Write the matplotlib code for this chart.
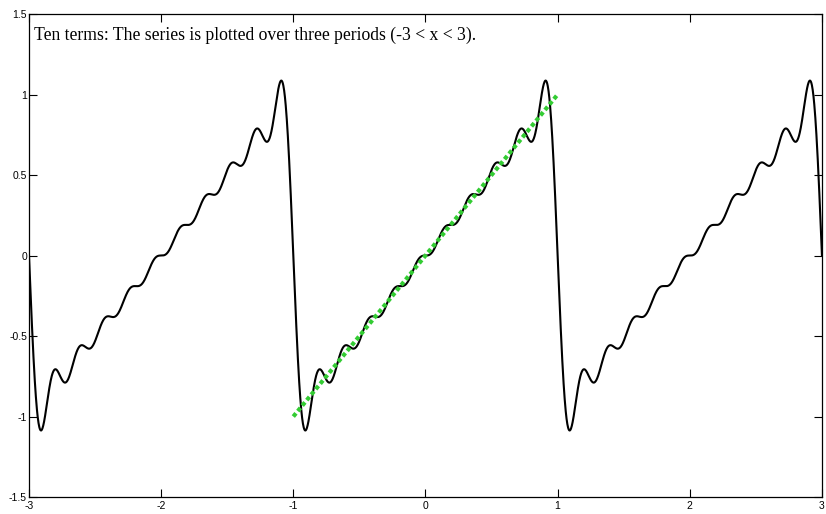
import matplotlib.pyplot as plt
import numpy as np

# sine coefficients of the first ten terms (sawtooth, period 2)
harmonics = [1, 2, 3, 4, 5, 6, 7, 8, 9, 10]
coeffs = [0.6366, -0.3183, 0.2122, -0.1592, 0.1273, -0.1061, 0.0909, -0.0796, 0.0707, -0.0637]
x_range = [-3, 3]
# the target function over one period
line_x = [-1, 1]
line_y = [-1, 1]

title = "Ten terms: The series is plotted over three periods (-3 < x < 3)."

x = np.linspace(x_range[0], x_range[1], 3000)
y = np.zeros_like(x)
for n, b in zip(harmonics, coeffs):
    y += b * np.sin(n * np.pi * x)

fig = plt.figure(figsize=(8.26, 5.14), dpi=100)
ax = fig.add_axes([0.0351, 0.033, 0.960, 0.9397])
ax.plot(x, y, color='black', linewidth=1.5)
ax.plot(line_x, line_y, color='#33cc33', linewidth=3, linestyle=(0, (1.0, 0.7)))

ax.set_xlim(-3, 3)
ax.set_ylim(-1.5, 1.5)
ax.set_xticks([-3, -2, -1, 0, 1, 2, 3])
ax.set_yticks([-1.5, -1, -0.5, 0, 0.5, 1, 1.5])
ax.set_xticklabels(['-3', '-2', '-1', '0', '1', '2', '3'])
ax.set_yticklabels(['-1.5', '-1', '-0.5', '0', '0.5', '1', '1.5'])
ax.tick_params(direction='in', top=True, right=True, length=6, width=0.8,
               labelsize=7.5)
ax.tick_params(axis='x', pad=3)
ax.tick_params(axis='y', pad=1.5)
for lab in ax.get_xticklabels() + ax.get_yticklabels():
    lab.set_family('Liberation Sans')
for sp in ax.spines.values():
    sp.set_linewidth(0.9)

ax.text(0.006, 0.955, title, transform=ax.transAxes, fontsize=12.7,
        family='Liberation Serif', va='center', ha='left')

fig.savefig('out.png', dpi=100)
